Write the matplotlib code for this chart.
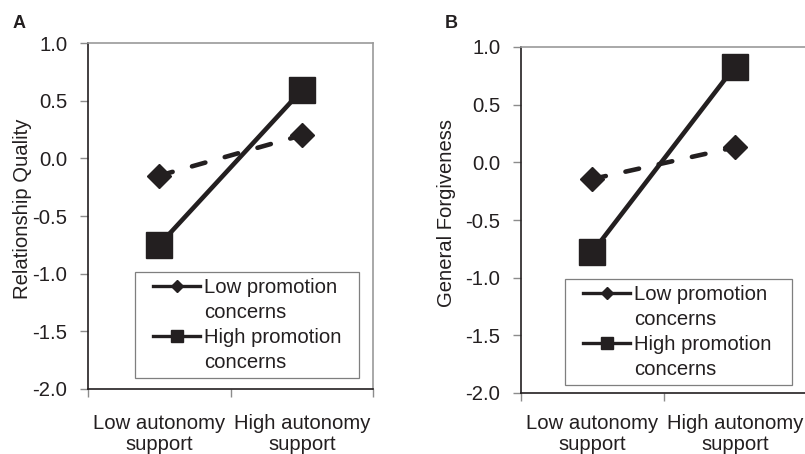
import matplotlib
matplotlib.use("Agg")
import matplotlib.pyplot as plt
from matplotlib.lines import Line2D
from matplotlib.legend_handler import HandlerLine2D

plt.rcParams['font.family'] = ['Liberation Sans', 'DejaVu Sans']
plt.rcParams['lines.scale_dashes'] = False

categories = ["Low autonomy\nsupport", "High autonomy\nsupport"]
series_names = [("Low promotion", "concerns"), ("High promotion", "concerns")]
a_low_promo = [-0.15, 0.20]
a_high_promo = [-0.75, 0.59]
b_low_promo = [-0.145, 0.13]
b_high_promo = [-0.78, 0.83]
y_ticks = [-2.0, -1.5, -1.0, -0.5, 0.0, 0.5, 1.0]

INK = '#231f20'
GRAY = '#8c8c8c'
FS = 14.6

fig = plt.figure(figsize=(8.05, 4.54), dpi=100)

def panel(rect, low, high, ylabel, label_x, legend_anchor, xpad):
    ax = fig.add_axes(rect)
    x = list(range(len(categories)))
    ax.plot(x, low, color=INK, lw=3.3, dashes=(10, 14.5), dash_capstyle='round',
            marker='D', ms=12, mfc=INK, mec=INK, zorder=3)
    ax.plot(x, high, color=INK, lw=3.3, solid_capstyle='butt',
            marker='s', ms=19, mfc=INK, mec=INK, zorder=4)
    ax.set_xlim(-0.5, 1.5)
    ax.set_ylim(-2.0, 1.0)
    ax.set_yticks(y_ticks)
    ax.set_yticklabels([f"{v:.1f}" for v in y_ticks], fontsize=FS, color=INK)
    ax.set_xticks(x)
    ax.set_xticklabels(categories, fontsize=FS, color=INK, linespacing=1.15)
    ax.set_xticks([-0.5, 0.5, 1.5], minor=True)
    ax.tick_params(axis='x', which='major', length=0, pad=xpad)
    ax.tick_params(axis='x', which='minor', length=6, color=GRAY, width=1, direction='out')
    ax.tick_params(axis='y', length=6, color=GRAY, width=1, direction='out', pad=9)
    for s in ('left', 'bottom'):
        ax.spines[s].set_color(INK)
        ax.spines[s].set_linewidth(1.2)
    for s in ('top', 'right'):
        ax.spines[s].set_color('#9a9a9a')
        ax.spines[s].set_linewidth(1.2)
    ax.set_ylabel(ylabel, fontsize=FS, color=INK)
    ax.yaxis.set_label_coords(label_x, 0.52)
    hidden = Line2D([], [], color='none', lw=0)
    handles = [
        Line2D([], [], color=INK, lw=2.4, marker='D', ms=6, mfc=INK, mec=INK),
        hidden,
        Line2D([], [], color=INK, lw=2.4, marker='s', ms=9, mfc=INK, mec=INK),
        hidden,
    ]
    labels = [series_names[0][0], series_names[0][1], series_names[1][0], series_names[1][1]]
    leg = ax.legend(handles, labels, loc='upper left', bbox_to_anchor=legend_anchor,
                    mode='expand', fontsize=FS, frameon=True, fancybox=False,
                    edgecolor='#7f7f7f', framealpha=1, handlelength=2.9,
                    handletextpad=0.2, borderpad=0.3, labelspacing=0.3,
                    borderaxespad=0,
                    handler_map={Line2D: HandlerLine2D(xpad=0.6)})
    leg.get_frame().set_linewidth(0.9)
    for t in leg.get_texts():
        t.set_color(INK)
    return ax

# Panel A
panel([88/805, 1-389/454, 285/805, 346/454], a_low_promo, a_high_promo,
      "Relationship Quality", -0.196,
      ((135-88)/285, (389-275)/346, 224/285, 0.01), 18)
# Panel B
panel([521/805, 1-393/454, 285/805, 346/454], b_low_promo, b_high_promo,
      "General Forgiveness", -0.228,
      ((565-521)/285, (393-282)/346, 227/285, 0.01), 15)

fig.text(13/805, 1-28/454, "A", fontsize=13, fontweight='bold', color=INK, va='baseline')
fig.text(445/805, 1-28/454, "B", fontsize=13, fontweight='bold', color=INK, va='baseline')

fig.savefig("out.png", dpi=100)
